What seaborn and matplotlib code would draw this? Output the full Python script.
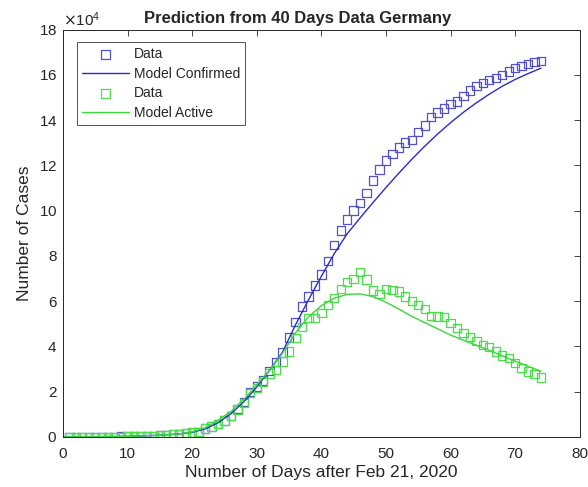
import numpy as np
import pandas as pd
import matplotlib
matplotlib.use('Agg')
import matplotlib.pyplot as plt
import seaborn as sns

# observed data, day 1 = Feb 21, 2020
days = list(range(1, 75))
confirmed = [16, 16, 16, 16, 17, 27, 46, 48, 79, 130,
             159, 196, 262, 482, 670, 799, 1040, 1176, 1457, 1908,
             2078, 3675, 4585, 5795, 7272, 9257, 12327, 15320, 19848, 22213,
             24873, 29056, 32986, 37323, 43938, 50871, 57695, 62095, 66885, 71808,
             77872, 84794, 91159, 96092, 100123, 103374, 107663, 113296, 118181, 122171,
             124908, 127854, 130072, 131359, 134753, 137698, 141397, 143342, 145184, 147065,
             148291, 150648, 153129, 154999, 156513, 157770, 158758, 159912, 161539, 163009,
             164077, 164967, 165664, 166152]
active = [2, 2, 2, 2, 3, 13, 32, 34, 65, 116,
          145, 182, 248, 468, 656, 783, 1024, 1160, 1440, 1880,
          2050, 3620, 4520, 5700, 7160, 9130, 12100, 14850, 19250, 21600,
          24200, 28000, 29600, 33300, 37800, 43700, 48500, 52500, 52500, 54700,
          58400, 61400, 65300, 68400, 69800, 72900, 69500, 64700, 63100, 65300,
          65000, 64300, 62100, 60200, 58400, 56500, 53500, 53200, 52900, 50300,
          48100, 45900, 44100, 42500, 40700, 39700, 37800, 36000, 34800, 32600,
          30400, 28900, 27900, 26200]

# model curves
model_days = [0, 5, 10, 15, 18, 20, 22, 24, 26, 28, 30, 32, 34, 36, 38, 40, 42, 44,
              46, 48, 50, 52, 54, 56, 58, 60, 62, 64, 66, 68, 70, 72, 74]
model_confirmed = [0, 50, 200, 700, 1300, 2000, 3500, 6200, 10200, 15500, 22000, 29500,
                   37500, 49500, 60500, 71000, 81000, 89800, 96800, 103600, 110200,
                   116600, 122700, 128500, 133900, 138900, 143500, 147700, 151500,
                   155000, 158000, 160600, 163000]
model_active = [0, 50, 200, 700, 1300, 2200, 4000, 7200, 11200, 16500, 23000, 29500,
                37000, 46000, 53000, 58000, 61300, 63000, 63200, 62000, 59500, 56500,
                53300, 50500, 47800, 45000, 42700, 40500, 38200, 35800, 33500, 31200,
                29000]

blue_line = '#2a2ad0'
blue_mark = '#5050d0'
green_line = '#3ad83a'
green_mark = '#4ade4a'

sns.set_theme(style='white')
plt.rcParams['font.family'] = ['Liberation Sans', 'DejaVu Sans']

fig = plt.figure(figsize=(5.88, 4.87), dpi=100)
ax = fig.add_axes([0.107, 0.103, 0.879, 0.836])

sns.scatterplot(x=days, y=confirmed, marker='s', s=36, facecolor='none',
                edgecolor=blue_mark, linewidth=0.9, label='Data', ax=ax)
sns.lineplot(x=model_days, y=model_confirmed, color=blue_line, linewidth=1.0,
             label='Model Confirmed', ax=ax)
sns.scatterplot(x=days, y=active, marker='s', s=36, facecolor='none',
                edgecolor=green_mark, linewidth=0.9, label='Data', ax=ax)
sns.lineplot(x=model_days, y=model_active, color=green_line, linewidth=1.0,
             label='Model Active', ax=ax)

ax.set_xlim(0, 80)
ax.set_ylim(0, 180000)
ax.set_xticks(range(0, 81, 10))
ax.set_yticks(range(0, 180001, 20000))
ax.ticklabel_format(axis='y', style='sci', scilimits=(4, 4), useMathText=True)
ax.yaxis.get_offset_text().set_fontsize(11)
ax.yaxis.get_offset_text().set_color('#262626')

ax.tick_params(direction='in', length=4, width=0.6, top=True, right=True,
               labelsize=11, colors='#262626')
ax.tick_params(axis='x', pad=7)
ax.tick_params(axis='y', pad=4)
for sp in ax.spines.values():
    sp.set_color('#262626')
    sp.set_linewidth(0.7)

ax.set_title('Prediction from 40 Days Data Germany', fontsize=12, fontweight='bold',
             pad=5, x=0.455)
ax.set_xlabel('Number of Days after Feb 21, 2020', fontsize=12.5, color='#262626',
              labelpad=3)
ax.set_ylabel('Number of Cases', fontsize=12.5, color='#262626', labelpad=5)

leg = ax.legend(loc='upper left', bbox_to_anchor=(0.027, 0.969), fontsize=10,
                frameon=True, fancybox=False, edgecolor='#262626',
                borderpad=0.35, labelspacing=0.4, handlelength=3.4, handletextpad=0.35,
                borderaxespad=0)
leg.get_frame().set_linewidth(0.7)

fig.savefig('out.png', dpi=100)
